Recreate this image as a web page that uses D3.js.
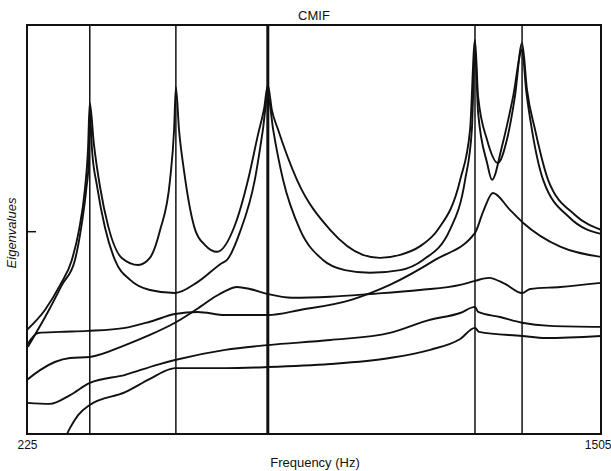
<!DOCTYPE html>
<html>
<head>
<meta charset="utf-8">
<script src="https://cdn.jsdelivr.net/npm/d3@7"></script>
<style>
  body { margin: 0; background: #fff; }
  text { font-family: "Liberation Sans", Arial, sans-serif; fill: #111; }
</style>
</head>
<body>
<div id="chart"></div>
<script>
// frequency range (Hz) and eigenvalue range (dB-like units, only the 0 tick is marked)
const freqRange = [225, 1505];
const eigRange = [-60, 61];
const yTicks = [0];
const xTickLabels = [225, 1505];

// resonance frequencies (vertical lines)
const modeFreqs = [365, 557, 762, 1224, 1329];

// eigenvalue curves, [frequency, value]
const eig1 = [[225,-29.2],[265,-23.3],[299,-15.9],[325,-8.5],[341,0.4],[354,12.2],[361,24.1],[365,38.0],
  [374,26.0],[388,13.0],[406,1.5],[437,-8.0],[473,-10.0],[499,-7.9],[522,0.4],[544,15.2],[553,30.0],[557,42.7],
  [564,30.0],[575,18.0],[600,0.4],[622,-4.1],[649,-6.1],[689,1.9],[718,15.2],[740,28.5],[754,36.5],[762,43.3],
  [771,35.9],[785,30.0],[827,15.2],[901,0.4],[974,-7.0],[1012,-7.9],[1057,-7.0],[1101,-4.5],[1141,0.4],[1191,15.2],
  [1213,30.0],[1224,56.6],[1231,39.8],[1251,27.0],[1275,20.2],[1295,27.0],[1313,39.8],[1329,55.7],[1340,41.8],
  [1358,30.0],[1387,15.2],[1447,4.8],[1505,0.4]];
const eig2 = [[227,-34.2],[274,-23.3],[303,-15.9],[332,-8.5],[345,0.4],[357,12.2],[363,21.1],[365,35.9],
  [370,24.1],[381,13.5],[399,1.0],[421,-8.5],[455,-14.4],[499,-17.4],[555,-18.3],[606,-15.0],[660,-9.4],[671,-8.5],
  [700,-0.2],[733,15.2],[751,30.0],[762,40.3],[774,30.0],[796,15.2],[834,0.4],[885,-8.5],[934,-11.5],[990,-12.3],
  [1057,-11.5],[1108,-8.5],[1168,0.4],[1202,15.2],[1217,30.0],[1224,53.7],[1231,35.0],[1251,20.2],[1262,15.2],
  [1284,25.0],[1309,39.8],[1329,53.7],[1338,41.8],[1351,30.0],[1376,15.2],[1436,3.9],[1505,-0.8]];
const eig3 = [[225,-44.0],[254,-41.1],[287,-38.7],[321,-37.5],[365,-37.2],[444,-33.7],[499,-30.7],[555,-27.1],
  [611,-22.4],[644,-19.4],[667,-17.7],[693,-16.5],[722,-17.1],[762,-18.6],[816,-19.7],[901,-19.4],[990,-18.6],
  [1101,-17.4],[1191,-15.9],[1224,-14.7],[1255,-13.8],[1291,-15.6],[1329,-18.3],[1347,-17.1],[1414,-16.5],[1505,-15.3]];
const eig4 = [[225,-33.7],[250,-30.1],[299,-29.8],[361,-29.5],[444,-28.6],[499,-26.8],[555,-24.5],[606,-23.9],
  [667,-24.8],[762,-24.8],[834,-23.3],[948,-20.3],[1034,-15.9],[1135,-8.5],[1224,-0.5],[1242,5.7],[1264,11.3],
  [1302,6.3],[1331,2.5],[1414,-4.6],[1505,-7.6]];
const eig5 = [[225,-50.8],[276,-51.1],[321,-48.5],[365,-44.9],[444,-42.5],[513,-39.6],[555,-38.1],[667,-35.1],
  [762,-33.7],[901,-32.2],[1034,-30.1],[1121,-26.3],[1191,-24.2],[1224,-22.4],[1231,-23.9],[1280,-25.4],
  [1329,-27.1],[1391,-28.0],[1505,-28.3]];
const eig6 = [[303,-63.3],[321,-58.2],[339,-54.4],[365,-51.4],[444,-47.6],[499,-43.7],[544,-40.8],[555,-40.5],
  [667,-40.5],[762,-40.2],[901,-39.3],[1034,-37.5],[1124,-35.1],[1191,-31.9],[1224,-28.6],[1233,-29.8],
  [1329,-31.0],[1382,-31.6],[1505,-31.0]];
const curves = [eig1, eig2, eig3, eig4, eig5, eig6];

const width = 611, height = 471;
const plot = { left: 27, right: 601, top: 25, bottom: 434 };

const x = d3.scaleLinear().domain(freqRange).range([plot.left, plot.right]);
const y = d3.scaleLinear().domain(eigRange).range([plot.bottom, plot.top]);

const svg = d3.select("#chart").append("svg")
  .attr("width", width)
  .attr("height", height);

svg.append("defs").append("clipPath").attr("id", "plotclip")
  .append("rect")
  .attr("x", plot.left).attr("y", plot.top)
  .attr("width", plot.right - plot.left).attr("height", plot.bottom - plot.top);

const g = svg.append("g").attr("clip-path", "url(#plotclip)");

// modal lines
g.selectAll("line.mode")
  .data(modeFreqs)
  .enter().append("line")
  .attr("class", "mode")
  .attr("x1", d => x(d)).attr("x2", d => x(d))
  .attr("y1", plot.top).attr("y2", plot.bottom)
  .attr("stroke", "#111")
  .attr("stroke-width", (d, i) => i === 2 ? 3 : 1.5);

const line = d3.line()
  .x(d => x(d[0]))
  .y(d => y(d[1]))
  .curve(d3.curveMonotoneX);

g.selectAll("path.eig")
  .data(curves)
  .enter().append("path")
  .attr("class", "eig")
  .attr("d", line)
  .attr("fill", "none")
  .attr("stroke", "#111")
  .attr("stroke-width", 1.9)
  .attr("stroke-linejoin", "round");

// frame
svg.append("rect")
  .attr("x", plot.left).attr("y", plot.top)
  .attr("width", plot.right - plot.left).attr("height", plot.bottom - plot.top)
  .attr("fill", "none")
  .attr("stroke", "#111")
  .attr("stroke-width", 2);

// y axis, single inward tick
const yAxis = svg.append("g")
  .attr("transform", `translate(${plot.left},0)`)
  .call(d3.axisLeft(y).tickValues(yTicks).tickSize(-9).tickSizeOuter(0).tickFormat(""));
yAxis.select(".domain").remove();
yAxis.selectAll("line").attr("stroke", "#111").attr("stroke-width", 1.5);

// x axis, end labels only
const xAxis = svg.append("g")
  .attr("transform", `translate(0,${plot.bottom})`)
  .call(d3.axisBottom(x).tickValues(xTickLabels).tickSize(0).tickPadding(6.5).tickFormat(d3.format("d")));
xAxis.select(".domain").remove();
xAxis.selectAll("text")
  .style("font-size", "12px")
  .attr("fill", "#111")
  .style("font-family", "\"Liberation Sans\", Arial, sans-serif");
// last label sits against the right edge
xAxis.selectAll(".tick").filter((d, i) => i === xTickLabels.length - 1).select("text")
  .attr("text-anchor", "end")
  .attr("x", 10);

svg.append("text")
  .attr("x", 314).attr("y", 20)
  .attr("text-anchor", "middle")
  .style("font-size", "13px")
  .text("CMIF");

svg.append("text")
  .attr("x", 315).attr("y", 467)
  .attr("text-anchor", "middle")
  .style("font-size", "13px")
  .text("Frequency (Hz)");

svg.append("text")
  .attr("transform", "translate(16,233) rotate(-90)")
  .attr("text-anchor", "middle")
  .style("font-size", "13px")
  .style("font-style", "italic")
  .text("Eigenvalues");
</script>
</body>
</html>
